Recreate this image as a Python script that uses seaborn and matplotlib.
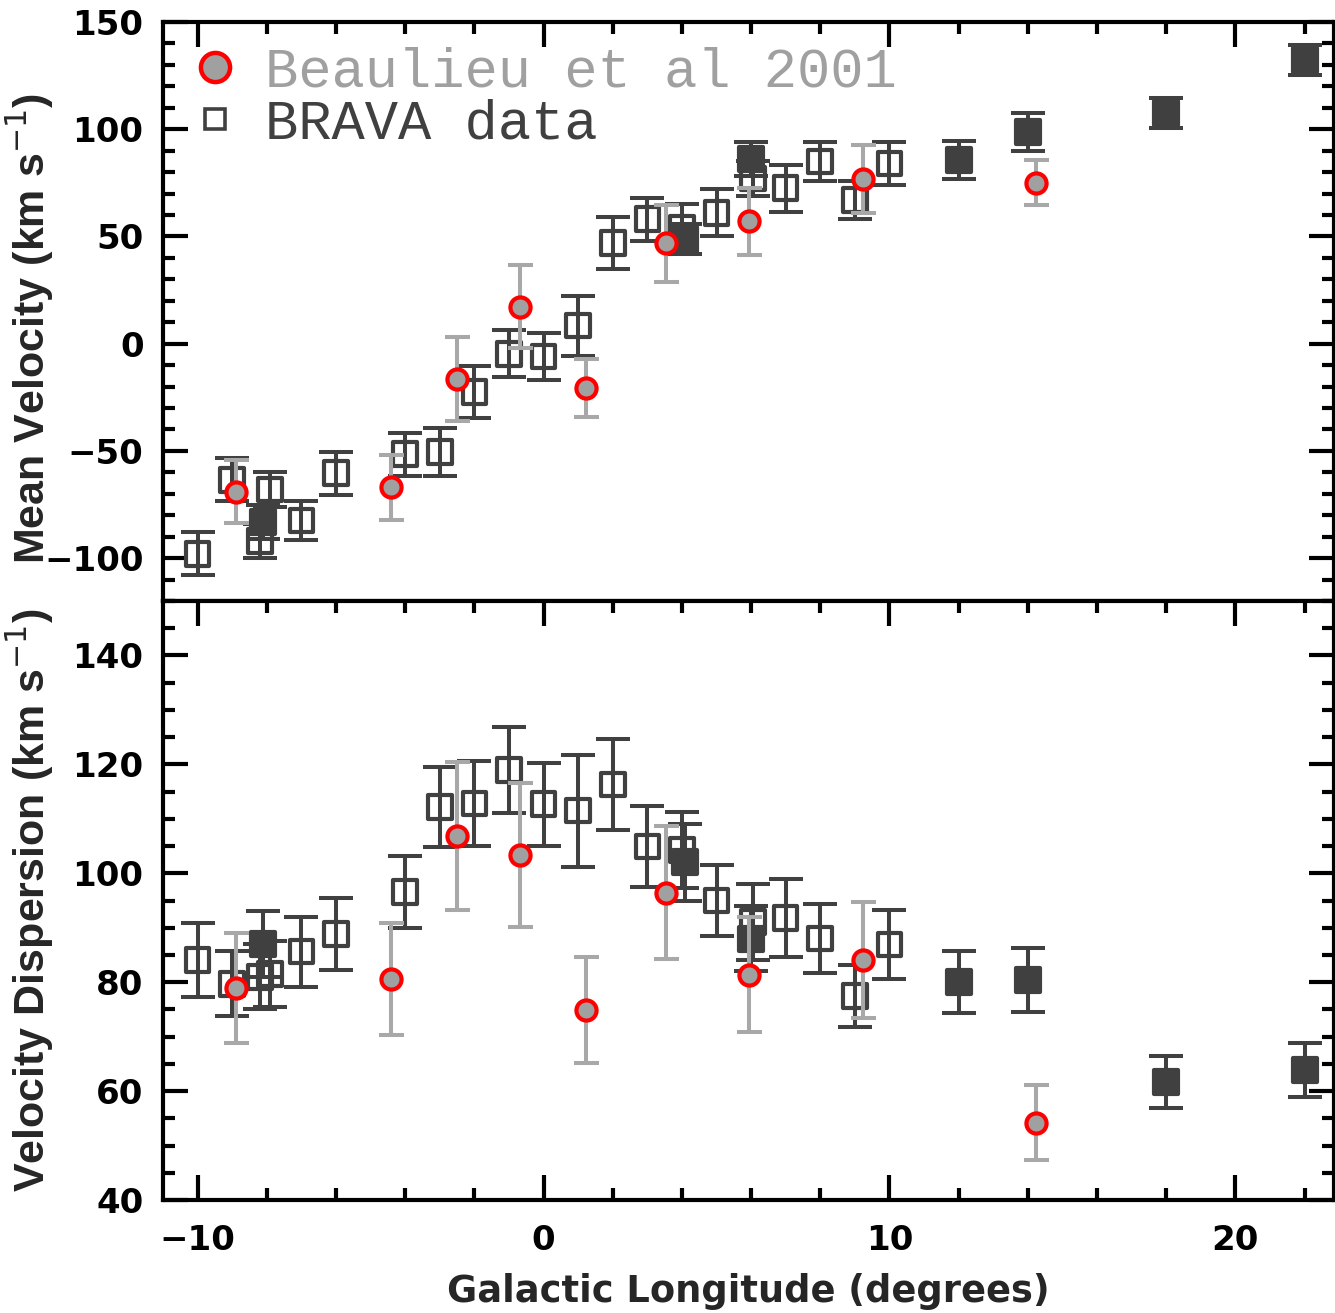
import numpy as np
import pandas as pd
import matplotlib
matplotlib.use("Agg")
import matplotlib.pyplot as plt
from matplotlib.lines import Line2D
import seaborn as sns

# ---------------- data ----------------
# BRAVA fields: longitude, mean velocity (+err), dispersion (+err), filled?
brava_l = [-10, -9, -7.9, -8.1, -8.2, -7, -6, -4, -3, -2, -1, 0, 1, 2, 3, 4, 4.1,
           5, 6, 6.05, 7, 8, 9, 10, 12, 14, 18, 22]
brava_v = [-98, -63.5, -68, -83, -92, -82.4, -60.4, -51.5, -50.5, -22.5, -4.7, -6, 8.4,
           47, 58, 54, 49, 61, 86, 77, 72.5, 85, 67, 84, 85.6, 98.7, 107.6, 132.4]
brava_verr = [10, 10, 8, 8, 8, 9, 10, 10, 11, 12, 11, 11, 14, 12, 10, 11, 7, 11,
              8, 8, 11, 9, 9, 10, 9, 9, 7, 7]
brava_s = [84.1, 79.7, 81.5, 87, 81, 85.6, 88.9, 96.6, 112.2, 112.8, 119, 112.7,
           111.5, 116.3, 104.9, 104.3, 102, 95, 88, 91, 91.8, 88, 77.5, 86.9,
           80.1, 80.4, 61.7, 63.9]
brava_serr = [6.8, 6, 6, 6, 6, 6.4, 6.6, 6.6, 7.4, 7.8, 7.9, 7.6, 10.3, 8.3, 7.4,
              7, 7, 6.6, 6, 7, 7.2, 6.3, 5.7, 6.4, 5.7, 5.8, 4.8, 5]
brava_filled = [False, False, False, True, False, False, False, False, False, False,
                False, False, False, False, False, False, True, False, True, False,
                False, False, False, False, True, True, True, True]

# Beaulieu et al. 2001
beau_l = [-8.9, -4.4, -2.49, -0.69, 1.24, 3.53, 5.93, 9.23, 14.24]
beau_v = [-69, -67, -16.4, 17.3, -20.6, 46.8, 57, 76.7, 75]
beau_verr = [14.6, 15, 19.6, 19.5, 13.6, 18, 15.6, 15.9, 10.5]
beau_s = [79, 80.6, 106.9, 103.4, 74.9, 96.4, 81.4, 84.1, 54.2]
beau_serr = [10.1, 10.3, 13.6, 13.2, 9.7, 12.2, 10.5, 10.7, 6.9]

legend_labels = ["Beaulieu et al 2001", "BRAVA data"]
xlabel = "Galactic Longitude (degrees)"
ylabel_top = "Mean Velocity (km s$^{-1}$)"
ylabel_bot = "Velocity Dispersion (km s$^{-1}$)"

brava = pd.DataFrame({"l": brava_l, "v": brava_v, "verr": brava_verr,
                      "s": brava_s, "serr": brava_serr, "filled": brava_filled})
beau = pd.DataFrame({"l": beau_l, "v": beau_v, "verr": beau_verr,
                     "s": beau_s, "serr": beau_serr})

# ---------------- style ----------------
sns.set_theme(style="ticks")
plt.rcParams["font.family"] = ["DejaVu Sans"]

DARK = "#404040"
LGRAY = "#A8A8A8"
FILL = "#A0A0A0"
RED = "#FF0000"

W, H = 1335, 1313
fig = plt.figure(figsize=(W / 100, H / 100), dpi=100)
left = 163 / W
right = 1334 / W
ax1 = fig.add_axes([left, 1 - 601 / H, right - left, (601 - 22) / H])
ax2 = fig.add_axes([left, 1 - 1200 / H, right - left, (1200 - 601) / H])

lw = 2.9
sq_ms = 17
sq_mew = 3.0
ci_ms = 14.5
ci_mew = 3.0


def draw(ax, ycol, ecol):
    # BRAVA error bars
    ax.errorbar(brava["l"], brava[ycol], yerr=brava[ecol], fmt="none",
                ecolor=DARK, elinewidth=lw, capsize=12.5, capthick=lw, zorder=2)
    op = brava[~brava["filled"]]
    fl = brava[brava["filled"]]
    sns.scatterplot(data=op, x="l", y=ycol, ax=ax, marker="s", s=sq_ms ** 2,
                    facecolor="none", edgecolor=DARK, linewidth=sq_mew, zorder=3,
                    legend=False)
    sns.scatterplot(data=fl, x="l", y=ycol, ax=ax, marker="s", s=sq_ms ** 2,
                    color=DARK, edgecolor=DARK, linewidth=sq_mew, zorder=3,
                    legend=False)
    # Beaulieu
    ax.errorbar(beau["l"], beau[ycol], yerr=beau[ecol], fmt="none",
                ecolor=LGRAY, elinewidth=lw, capsize=9, capthick=lw, zorder=4)
    sns.scatterplot(data=beau, x="l", y=ycol, ax=ax, marker="o", s=ci_ms ** 2,
                    color=FILL, edgecolor=RED, linewidth=ci_mew, zorder=5,
                    legend=False)


draw(ax1, "v", "verr")
draw(ax2, "s", "serr")

for ax in (ax1, ax2):
    ax.set_xlim(-11, 22.85)
    for sp in ax.spines.values():
        sp.set_linewidth(3)
        sp.set_color("black")
    ax.xaxis.set_major_locator(plt.MultipleLocator(10))
    ax.xaxis.set_minor_locator(plt.MultipleLocator(2))
    ax.tick_params(which="both", direction="in", top=True, right=True,
                   width=3, colors="black")
    ax.tick_params(which="major", length=18, pad=14)
    ax.tick_params(which="minor", length=8.5)
    ax.set_xlabel("")

ax1.set_ylim(-120, 150)
ax1.yaxis.set_major_locator(plt.MultipleLocator(50))
ax1.yaxis.set_minor_locator(plt.MultipleLocator(10))
ax1.tick_params(axis="x", which="both", bottom=False, labelbottom=False)

ax2.set_ylim(40, 150)
ax2.yaxis.set_major_locator(plt.MultipleLocator(20))
ax2.yaxis.set_minor_locator(plt.MultipleLocator(5))
ax2.set_yticks([40, 60, 80, 100, 120, 140])
ax2.tick_params(axis="x", which="major", pad=17)

for ax in (ax1, ax2):
    for t in ax.get_xticklabels() + ax.get_yticklabels():
        t.set_fontweight("bold")
        t.set_fontsize(24.5)

ylab_font = dict(fontsize=31, fontweight="bold", family="Liberation Sans")
ax1.set_ylabel(ylabel_top, **ylab_font)
ax2.set_ylabel(ylabel_bot, **ylab_font)
ax1.yaxis.set_label_coords(-0.091, 0.47)
ax2.yaxis.set_label_coords(-0.091, 0.5)
ax2.set_xlabel(xlabel, fontsize=26.5, fontweight="bold", labelpad=12)

handles = [
    Line2D([], [], linestyle="none", marker="o", markersize=21,
           markerfacecolor=FILL, markeredgecolor=RED, markeredgewidth=3.2),
    Line2D([], [], linestyle="none", marker="s", markersize=15,
           markerfacecolor="none", markeredgecolor=DARK, markeredgewidth=2.6),
]
leg = ax1.legend(handles, legend_labels, loc="upper left",
                 bbox_to_anchor=(0.021, 0.958), frameon=False,
                 prop={"family": "Liberation Mono", "size": 40},
                 labelcolor=[FILL, DARK], handlelength=1.0, handletextpad=0.4,
                 borderpad=0, borderaxespad=0, labelspacing=0.0)

fig.savefig("out.png", dpi=100)
